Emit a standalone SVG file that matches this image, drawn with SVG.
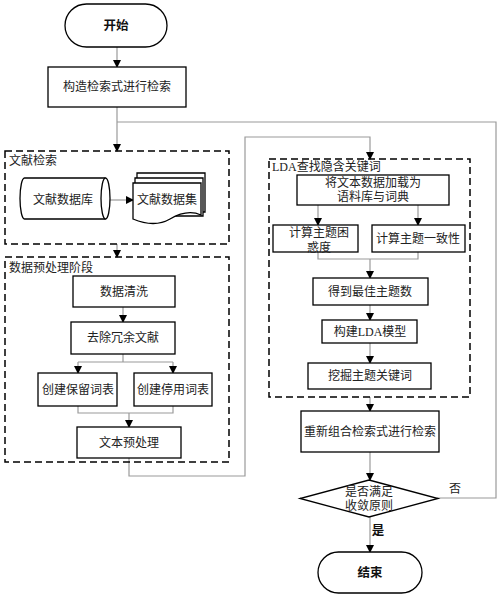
<svg xmlns="http://www.w3.org/2000/svg" width="500" height="598" viewBox="0 0 500 598">
<defs>
<marker id="ah" markerWidth="8" markerHeight="8" refX="7" refY="4" orient="auto" markerUnits="userSpaceOnUse">
<path d="M0,0 L8,4 L0,8 Z" fill="#000"/>
</marker>
<style>
.box{fill:#fff;stroke:#000;stroke-width:1.3}
.dash{fill:none;stroke:#000;stroke-width:1.5;stroke-dasharray:7,4}
.ln{fill:none;stroke:#9a9a9a;stroke-width:1.2}
.ar{fill:none;stroke:#9a9a9a;stroke-width:1.2;marker-end:url(#ah)}
.t{font-family:"Liberation Serif","Noto Sans CJK SC",serif;font-size:12px;fill:#222;text-anchor:middle}
.lb{font-family:"Liberation Serif","Noto Sans CJK SC",serif;font-size:12px;fill:#222;text-anchor:start}
.b{font-family:"Noto Sans CJK SC",sans-serif;font-size:12.5px;font-weight:bold;fill:#111;text-anchor:middle}
</style>
</defs>
<rect width="500" height="598" fill="#fff"/>

<g id="connectors">
<path class="ar" d="M117,47 V67"/>
<path class="ar" d="M117,107 V151"/>
<path class="ar" d="M117,244 V257"/>
<path class="ar" d="M123,307 V322"/>
<path class="ln" d="M123,354 V362 M78,362 H173"/>
<path class="ar" d="M78,362 V373"/>
<path class="ar" d="M173,362 V373"/>
<path class="ln" d="M78,406 V413 H173 V406"/>
<path class="ar" d="M129,413 V427"/>
<path class="ar" d="M129,458 V476 H245 V137 H370 V159"/>
<path class="ar" d="M110,200 H133"/>
<path class="ar" d="M318,205 V225"/>
<path class="ar" d="M418,205 V225"/>
<path class="ln" d="M318,252 V259 H418 V252"/>
<path class="ar" d="M370,259 V278"/>
<path class="ar" d="M370,305 V320"/>
<path class="ar" d="M370,343 V363"/>
<path class="ar" d="M370,397 V411"/>
<path class="ar" d="M370,452 V480"/>
<path class="ar" d="M370,517 V552"/>
<path class="ln" d="M438,498 H496 V122 H117"/>
<text class="b" x="378" y="535">是</text>
<text class="lb" x="449" y="493">否</text>
</g>

<g id="start">
<rect class="box" x="65" y="4" width="102" height="43" rx="21.5"/>
<text class="b" x="116" y="30">开始</text>
</g>

<g id="construct">
<rect class="box" x="48" y="67" width="138" height="40"/>
<text class="t" x="117" y="91">构造检索式进行检索</text>
</g>

<g id="group-retrieval">
<rect class="dash" x="5" y="151" width="224" height="93"/>
<text class="lb" x="9" y="165">文献检索</text>
</g>

<g id="database">
<path class="box" d="M105.5,178 H24.5 A4.5,20.5 0 0 0 24.5,219 H105.5"/>
<ellipse class="box" cx="105.5" cy="198.5" rx="4.5" ry="20.5"/>
<text class="t" x="63" y="204">文献数据库</text>
</g>

<g id="dataset">
<path class="box" d="M137,173 H205 V212 H137 Z"/>
<path class="box" d="M135,178 H203 V216 H135 Z"/>
<path class="box" d="M133,183 H201 V215 C192,211 182,212 170,219 C158,226 145,224 133,219 Z"/>
<text class="t" x="167" y="204">文献数据集</text>
</g>

<g id="group-preprocess">
<rect class="dash" x="5" y="257" width="224" height="205"/>
<text class="lb" x="9" y="272">数据预处理阶段</text>
</g>

<g id="clean">
<rect class="box" x="73" y="276" width="102" height="31"/>
<text class="t" x="124" y="296">数据清洗</text>
</g>

<g id="dedup">
<rect class="box" x="71" y="322" width="104" height="32"/>
<text class="t" x="123" y="342">去除冗余文献</text>
</g>

<g id="keep-list">
<rect class="box" x="38" y="373" width="79" height="33"/>
<text class="t" x="78" y="394">创建保留词表</text>
</g>

<g id="stop-list">
<rect class="box" x="134" y="373" width="78" height="33"/>
<text class="t" x="173" y="394">创建停用词表</text>
</g>

<g id="text-prep">
<rect class="box" x="77" y="427" width="104" height="31"/>
<text class="t" x="129" y="447">文本预处理</text>
</g>

<g id="group-lda">
<rect class="dash" x="269" y="159" width="201" height="238"/>
<text class="lb" x="272" y="171">LDA查找隐含关键词</text>
</g>

<g id="load">
<rect class="box" x="297" y="175" width="152" height="30"/>
<text class="t" x="373" y="187">将文本数据加载为</text>
<text class="t" x="373" y="201">语料库与词典</text>
</g>

<g id="perplexity">
<rect class="box" x="273" y="225" width="85" height="27"/>
<text class="t" x="319" y="237">计算主题困</text>
<text class="t" x="319" y="252">惑度</text>
</g>

<g id="coherence">
<rect class="box" x="372" y="225" width="93" height="27"/>
<text class="t" x="418" y="243">计算主题一致性</text>
</g>

<g id="best-k">
<rect class="box" x="313" y="278" width="115" height="27"/>
<text class="t" x="370" y="296">得到最佳主题数</text>
</g>

<g id="build-lda">
<rect class="box" x="322" y="320" width="95" height="23"/>
<text class="t" x="370" y="336">构建LDA模型</text>
</g>

<g id="mine">
<rect class="box" x="308" y="363" width="123" height="26"/>
<text class="t" x="370" y="380">挖掘主题关键词</text>
</g>

<g id="recombine">
<rect class="box" x="301" y="411" width="138" height="41"/>
<text class="t" x="370" y="436">重新组合检索式进行检索</text>
</g>

<g id="decision">
<path class="box" d="M369,480 L438,498.5 L369,517 L300,498.5 Z"/>
<text class="t" x="369" y="496">是否满足</text>
<text class="t" x="369" y="510">收敛原则</text>
</g>

<g id="end">
<rect class="box" x="318" y="552" width="104" height="41" rx="20.5"/>
<text class="b" x="370" y="577">结束</text>
</g>
</svg>
